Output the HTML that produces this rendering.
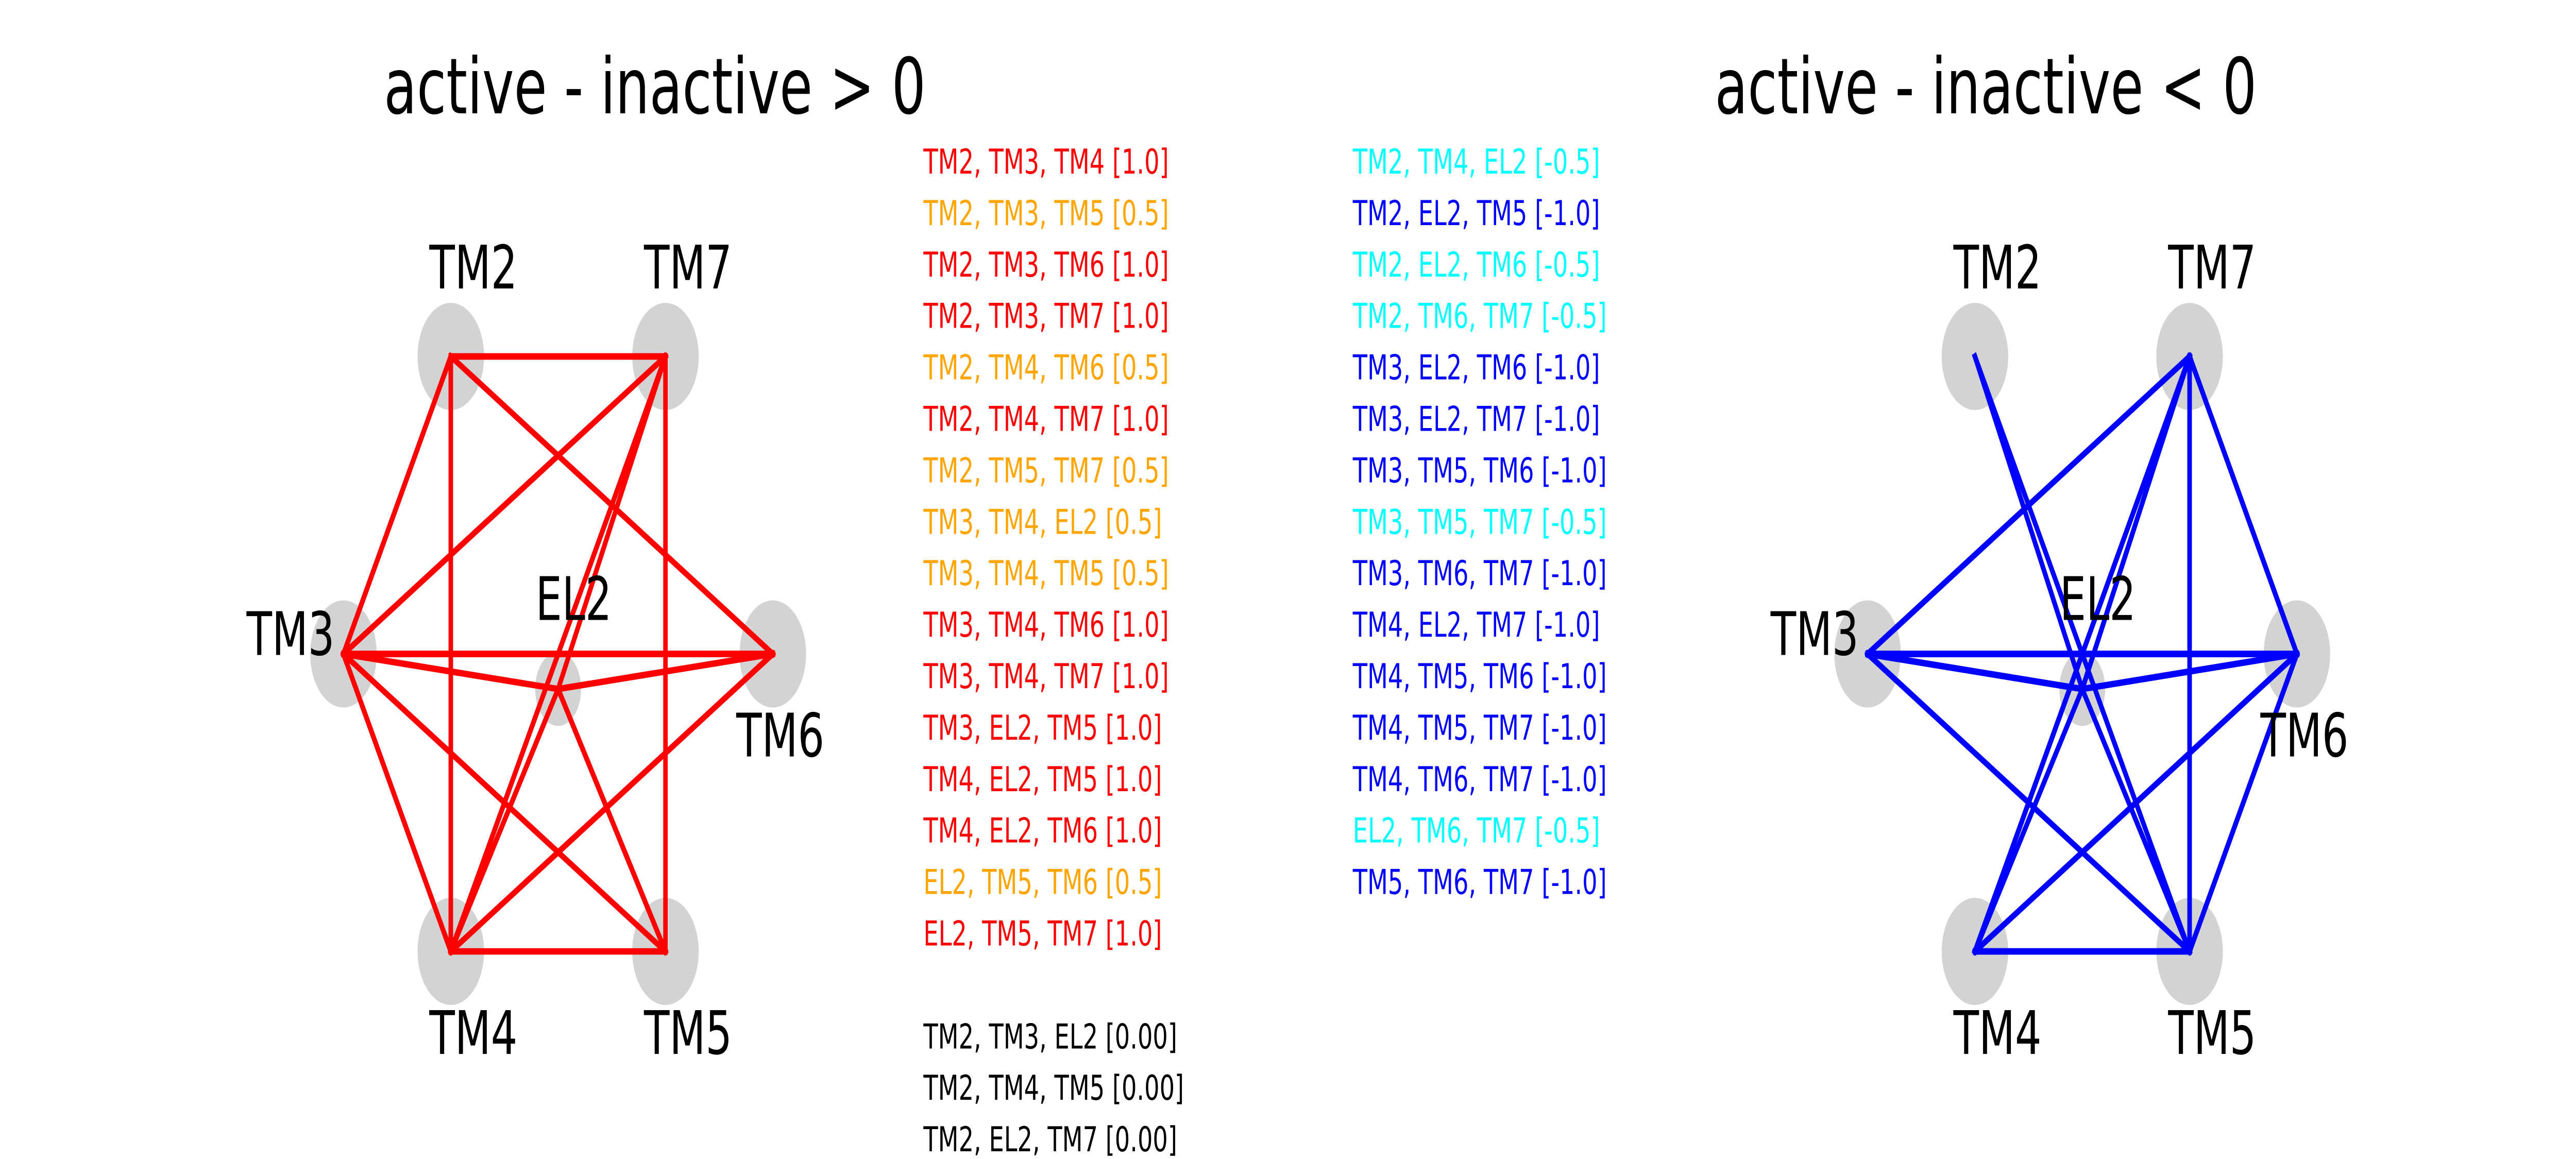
<!DOCTYPE html>
<html lang="en" style="width:100%;height:100%">
<head>
<meta charset="utf-8">
<title>active - inactive triplets</title>
<style>
  html, body { margin: 0; padding: 0; background: #fff; width: 100%; height: 100%; overflow: hidden; }
  svg { display: block; width: 100vw; height: 100vh; }
  text { font-family: "DejaVu Sans", "Liberation Sans", sans-serif; text-rendering: geometricPrecision; }
</style>
</head>
<body>
<svg id="chart" xmlns="http://www.w3.org/2000/svg" viewBox="0 0 7200 2250" preserveAspectRatio="none">
  <rect x="0" y="0" width="7200" height="2250" fill="#ffffff"/>
  <text x="1073" y="220" font-size="150" fill="#000">active - inactive &gt; 0</text>
  <text x="4793" y="220" font-size="150" fill="#000">active - inactive &lt; 0</text>
  <g id="left-panel"></g>
  <g id="right-panel"></g>
  <g id="positive-list"></g>
  <g id="negative-list"></g>
  <g id="zero-list"></g>
</svg>
<script>
// Node layout in abstract diagram units
const nodeNames = ["TM2", "TM3", "TM4", "TM5", "TM6", "TM7", "EL2"];
const nodeU = [-1, -2, -1, 1, 2, 1, 0];
const nodeV = [1, 0, -1, -1, 0, 1, -0.118];
const nodeSize = [1, 1, 1, 1, 1, 1, 0.69];

// Triplets with active - inactive > 0
const positiveTriplets = [
  "TM2, TM3, TM4", "TM2, TM3, TM5", "TM2, TM3, TM6", "TM2, TM3, TM7",
  "TM2, TM4, TM6", "TM2, TM4, TM7", "TM2, TM5, TM7", "TM3, TM4, EL2",
  "TM3, TM4, TM5", "TM3, TM4, TM6", "TM3, TM4, TM7", "TM3, EL2, TM5",
  "TM4, EL2, TM5", "TM4, EL2, TM6", "EL2, TM5, TM6", "EL2, TM5, TM7"
];
const positiveValues = [1.0, 0.5, 1.0, 1.0, 0.5, 1.0, 0.5, 0.5, 0.5, 1.0, 1.0, 1.0, 1.0, 1.0, 0.5, 1.0];

// Triplets with active - inactive < 0
const negativeTriplets = [
  "TM2, TM4, EL2", "TM2, EL2, TM5", "TM2, EL2, TM6", "TM2, TM6, TM7",
  "TM3, EL2, TM6", "TM3, EL2, TM7", "TM3, TM5, TM6", "TM3, TM5, TM7",
  "TM3, TM6, TM7", "TM4, EL2, TM7", "TM4, TM5, TM6", "TM4, TM5, TM7",
  "TM4, TM6, TM7", "EL2, TM6, TM7", "TM5, TM6, TM7"
];
const negativeValues = [-0.5, -1.0, -0.5, -0.5, -1.0, -1.0, -1.0, -0.5, -1.0, -1.0, -1.0, -1.0, -1.0, -0.5, -1.0];

// Triplets with no difference
const zeroTriplets = ["TM2, TM3, EL2", "TM2, TM4, TM5", "TM2, EL2, TM7"];
const zeroValues = [0.00, 0.00, 0.00];

const SVG_NS = "http://www.w3.org/2000/svg";

// Axis functions
function axisX(panelCentre, u) { return panelCentre + u * 300; }
function axisY(v) { return 1269.5 - v * 577.5; }
function rowY(row) { return 337 + row * 99.9; }

function labelOrigin(name, u, v) {
  // label placement relative to the node, per side of the diagram
  if (name === "TM3") return { dx: -271, dy: 2 };
  if (name === "TM6") return { dx: -102, dy: 199 };
  if (name === "EL2") return { dx: -63, dy: -134 };
  return { dx: -60, dy: v > 0 ? -132 : 199 };
}

function colourFor(value) {
  if (value >= 1) return "#ff0000";
  if (value > 0) return "#ffa500";
  if (value <= -1) return "#0000ff";
  if (value < 0) return "#00ffff";
  return "#000000";
}

function drawPanel(groupId, panelCentre, triplets, values, colour) {
  const group = document.getElementById(groupId);
  const position = (name) => {
    const i = nodeNames.indexOf(name);
    return { x: axisX(panelCentre, nodeU[i]), y: axisY(nodeV[i]) };
  };

  nodeNames.forEach((name, i) => {
    const ellipse = document.createElementNS(SVG_NS, "ellipse");
    ellipse.setAttribute("cx", axisX(panelCentre, nodeU[i]));
    ellipse.setAttribute("cy", axisY(nodeV[i]));
    ellipse.setAttribute("rx", 93 * nodeSize[i]);
    ellipse.setAttribute("ry", 104 * nodeSize[i]);
    ellipse.setAttribute("fill", "#d3d3d3");
    
    
    group.appendChild(ellipse);
  });

  triplets.forEach((triplet, t) => {
    if (Math.abs(values[t]) < 1) return;
    const members = triplet.split(", ");
    [[0, 1], [1, 2], [0, 2]].forEach((pair) => {
      const a = position(members[pair[0]]);
      const b = position(members[pair[1]]);
      const line = document.createElementNS(SVG_NS, "line");
      line.setAttribute("x1", a.x);
      line.setAttribute("y1", a.y);
      line.setAttribute("x2", b.x);
      line.setAttribute("y2", b.y);
      line.setAttribute("stroke", colour);
      line.setAttribute("stroke-width", 12.5);
      line.setAttribute("stroke-linecap", "square");
      
      
      group.appendChild(line);
    });
  });

  nodeNames.forEach((name, i) => {
    const offset = labelOrigin(name, nodeU[i], nodeV[i]);
    const label = document.createElementNS(SVG_NS, "text");
    label.setAttribute("x", axisX(panelCentre, nodeU[i]) + offset.dx);
    label.setAttribute("y", axisY(nodeV[i]) + offset.dy);
    label.setAttribute("font-size", 116.67);
    label.setAttribute("fill", "#000");
    label.textContent = name;
    
    
    group.appendChild(label);
  });
}

function drawList(groupId, x, firstRow, triplets, values, decimals) {
  const group = document.getElementById(groupId);
  triplets.forEach((triplet, i) => {
    const entry = document.createElementNS(SVG_NS, "text");
    entry.setAttribute("x", x);
    entry.setAttribute("y", rowY(firstRow + i));
    entry.setAttribute("font-size", 66.67);
    entry.setAttribute("fill", colourFor(values[i]));
    entry.textContent = triplet + " [" + values[i].toFixed(decimals) + "]";
    
    
    group.appendChild(entry);
  });
}

drawPanel("left-panel", 1560, positiveTriplets, positiveValues, "#ff0000");
drawPanel("right-panel", 5820, negativeTriplets, negativeValues, "#0000ff");
drawList("positive-list", 2581, 0, positiveTriplets, positiveValues, 1);
drawList("negative-list", 3781, 0, negativeTriplets, negativeValues, 1);
drawList("zero-list", 2581, 17, zeroTriplets, zeroValues, 2);
</script>
</body>
</html>
